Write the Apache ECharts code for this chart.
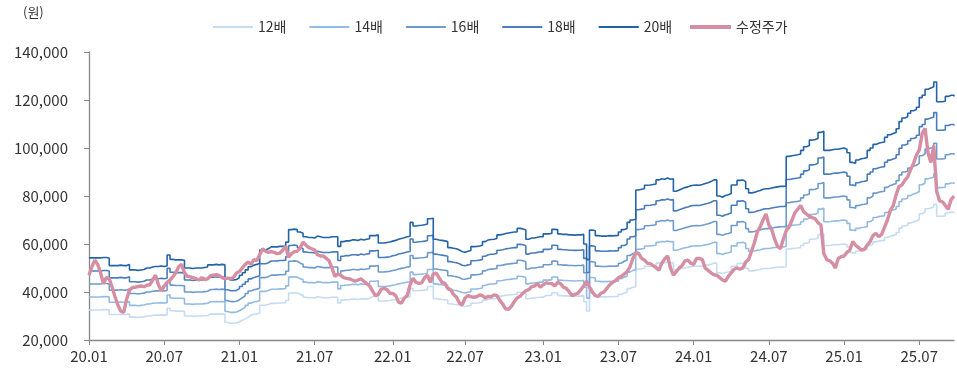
<!DOCTYPE html>
<html>
<head>
<meta charset="utf-8">
<script src="https://cdn.jsdelivr.net/npm/echarts@6/dist/echarts.min.js"></script>
<style>
  html, body { margin: 0; padding: 0; background: #fff; }
  #chart { width: 957px; height: 376px; }
</style>
</head>
<body>
<div id="chart"></div>
<script>
// Weekly PER band chart: price vs. 12x-20x trailing EPS bands
const firstWeek = '2020-01-03';
const weekCount = 300;

const multiples = [12, 14, 16, 18, 20];
const bandNames = ['12배', '14배', '16배', '18배', '20배'];
const priceName = '수정주가';
const unitLabel = '(원)';

const yMin = 20000, yMax = 140000, yStep = 20000;

// Trailing 12M EPS (원), weekly
const eps = [
  2710,2710,2710,2710,2720,2720,2710,2550,2550,2550,
  2560,2550,2550,2575,2460,2460,2450,2460,2470,2500,
  2500,2520,2530,2530,2540,2530,2540,2770,2680,2670,
  2670,2670,2660,2500,2500,2490,2500,2500,2500,2510,
  2520,2565,2565,2575,2565,2575,2565,2275,2250,2250,
  2260,2300,2350,2400,2460,2525,2560,2575,2600,2875,
  2875,2900,2940,2940,2940,2950,2950,2960,3040,3300,
  3310,3300,3250,3225,3150,3135,3135,3125,3165,3150,
  3135,3135,3135,3150,3150,3150,2950,3050,3065,3065,
  3085,3085,3075,3100,3085,3100,3110,3175,3175,3190,
  3020,3020,3030,3040,3060,3075,3100,3115,3130,3150,
  3160,3450,3375,3385,3390,3400,3415,3525,3535,3100,
  3085,3075,3065,3050,2925,2910,2900,2875,2840,2830,
  2850,2865,2945,2950,2960,2975,3050,3085,3095,3100,
  3115,3190,3200,3220,3230,3240,3250,3250,3325,3315,
  3290,3100,3125,3125,3140,3150,3150,3210,3210,3225,
  3305,3300,3210,3200,3200,3190,3190,3185,3190,3190,
  3200,3000,2675,3290,3275,3175,3165,3165,3165,3175,
  3170,3175,3180,3250,3300,3325,3450,3500,3515,4125,
  4140,4150,4225,4230,4240,4250,4335,4360,4350,4375,
  4350,4360,4100,4125,4150,4175,4190,4215,4225,4230,
  4225,4240,4260,4275,4300,4335,4335,4000,3975,4010,
  4025,4050,4230,4230,4325,4335,4300,4150,4065,4075,
  4100,4115,4140,4150,4150,4165,4180,4190,4200,4200,
  4210,4825,4840,4850,4860,4875,4950,5025,5050,5165,
  5175,5200,5325,5350,4950,4950,4965,4975,4975,4990,
  5000,4975,4900,4700,4680,4750,4775,4785,4800,4950,
  5000,5075,5100,5115,5125,5225,5275,5300,5325,5400,
  5550,5625,5650,5725,5775,5800,5850,6050,6100,6225,
  6250,6275,6375,5965,5965,5975,6075,6100,6100,6075
];

// Adjusted close (원), weekly
const price = [
  47000,50500,53300,51500,48000,43500,46000,45500,42000,38000,
  34500,32000,31500,37000,40800,41800,42000,42300,42500,42200,
  42800,43000,45000,47000,43000,40500,42500,44000,45000,46300,
  48000,50500,51500,48000,46500,46300,46000,45500,45000,46000,
  45200,45500,46800,47000,47200,46800,46000,45500,45800,45500,
  46200,47900,48500,50000,51500,52500,51500,53500,53000,55500,
  58000,57000,56500,56800,56500,56000,56200,57500,59000,54500,
  56000,56800,57000,58300,60800,59500,58500,58000,57500,55500,
  55000,55000,54000,53000,50000,46500,47500,47000,46000,45700,
  45500,45000,44500,45000,45500,44500,43500,42500,40500,38500,
  39000,41200,41500,41000,39500,39400,38500,35800,35400,37500,
  38500,43000,45800,44000,43600,43800,46000,47000,44000,47500,
  47900,46000,44000,43600,41500,41000,39000,37800,35500,34600,
  37500,38500,38000,37800,38000,38800,38500,37500,38200,38000,
  38800,38500,36500,35000,33000,32800,34000,36000,37500,38200,
  39500,40500,41000,42200,42500,43500,42000,43000,43800,43600,
  43500,42500,44000,43500,42000,41500,40000,38500,39000,39500,
  41000,42500,44500,42000,40000,38500,38200,39500,40000,41500,
  43000,44000,44800,46000,46500,47500,48500,50500,54000,56500,
  56000,54000,53300,52000,51800,51000,50200,49000,52000,53800,
  55000,50000,47000,48500,50000,51000,53000,53300,52000,51500,
  54000,54000,53500,50000,49000,48000,47200,47000,46000,45000,
  44500,46500,48000,49500,50000,49500,50000,52500,53500,57000,
  60500,65000,67200,70000,72500,68000,66000,62000,59000,58000,
  62000,65500,67000,70000,73000,74500,76000,73500,72500,71500,
  71000,70500,68800,68000,56000,53500,53000,52000,50000,54000,
  54700,55000,56500,57500,61000,59500,58500,57500,57800,59500,
  61000,63500,64500,63000,64000,67000,70000,74000,76000,80500,
  84000,84600,86500,88000,91000,93600,97000,99200,106000,108200,
  98000,94000,101000,82000,78000,77600,76000,74500,78500,80000
];

const bandColors = ['#c6dcf2', '#94bce3', '#6e9bcc', '#4a7dbb', '#2463a8'];
const priceColor = '#d58ea2';
const FONT = '"Noto Sans CJK KR", "Noto Sans", sans-serif';

// Weekly date categories
const weeks = [];
{
  const d0 = new Date(firstWeek + 'T00:00:00Z');
  for (let i = 0; i < weekCount; i++) {
    const d = new Date(d0.getTime() + i * 7 * 86400000);
    weeks.push(d.toISOString().slice(0, 10));
  }
}
// Half-year ticks: first week of January and July
const isHalfYearStart = (idx) => {
  if (idx === 0) return true;
  const m = weeks[idx].slice(5, 7);
  const pm = weeks[idx - 1].slice(5, 7);
  return m !== pm && (m === '01' || m === '07');
};

const bandSeries = multiples.map((m, k) => ({
  name: bandNames[k],
  type: 'line',
  data: eps.map(e => e * m),
  step: 'end',
  showSymbol: false,
  symbol: 'none',
  lineStyle: { width: 1.6, color: bandColors[k] },
  itemStyle: { color: bandColors[k] },
  z: 2 + k,
  animation: false
}));

const priceSeries = {
  name: priceName,
  type: 'line',
  data: price,
  showSymbol: false,
  symbol: 'none',
  lineStyle: { width: 3.4, color: priceColor },
  itemStyle: { color: priceColor },
  z: 10,
  animation: false
};

const legendText = { fontSize: 14, color: '#333', fontFamily: FONT };

const chart = echarts.init(document.getElementById('chart'), null, { renderer: 'canvas' });
chart.setOption({
  animation: false,
  backgroundColor: '#fff',
  textStyle: { fontFamily: FONT },
  grid: { left: 89, right: 3, top: 52, bottom: 36, containLabel: false },
  legend: [{
    data: bandNames,
    left: 208,
    top: 15,
    icon: 'rect',
    itemWidth: 40,
    itemHeight: 2,
    itemGap: 23,
    textStyle: legendText
  }, {
    data: [priceName],
    left: 685,
    top: 15,
    icon: 'rect',
    itemWidth: 41,
    itemHeight: 4,
    textStyle: legendText
  }],
  graphic: [{
    type: 'text',
    left: 23,
    top: 6,
    style: { text: unitLabel, font: '13px ' + FONT, fill: '#333' }
  }],
  xAxis: {
    type: 'category',
    data: weeks,
    boundaryGap: false,
    axisLine: { lineStyle: { color: '#888', width: 1.3 } },
    axisTick: { show: true, interval: isHalfYearStart, length: 5, lineStyle: { color: '#888' } },
    axisLabel: {
      interval: isHalfYearStart,
      margin: 9,
      fontSize: 15,
      color: '#333',
      fontFamily: FONT,
      formatter: v => v.slice(2, 4) + '.' + v.slice(5, 7)
    },
    splitLine: { show: false }
  },
  yAxis: {
    type: 'value',
    min: yMin,
    max: yMax,
    interval: yStep,
    axisLine: { show: true, lineStyle: { color: '#888', width: 1.3 } },
    axisTick: { show: true, length: 5, lineStyle: { color: '#888' } },
    axisLabel: {
      margin: 21,
      fontSize: 15,
      color: '#333',
      fontFamily: FONT,
      formatter: v => v.toLocaleString('en-US')
    },
    splitLine: { show: false }
  },
  series: [...bandSeries, priceSeries]
});
</script>
</body>
</html>
